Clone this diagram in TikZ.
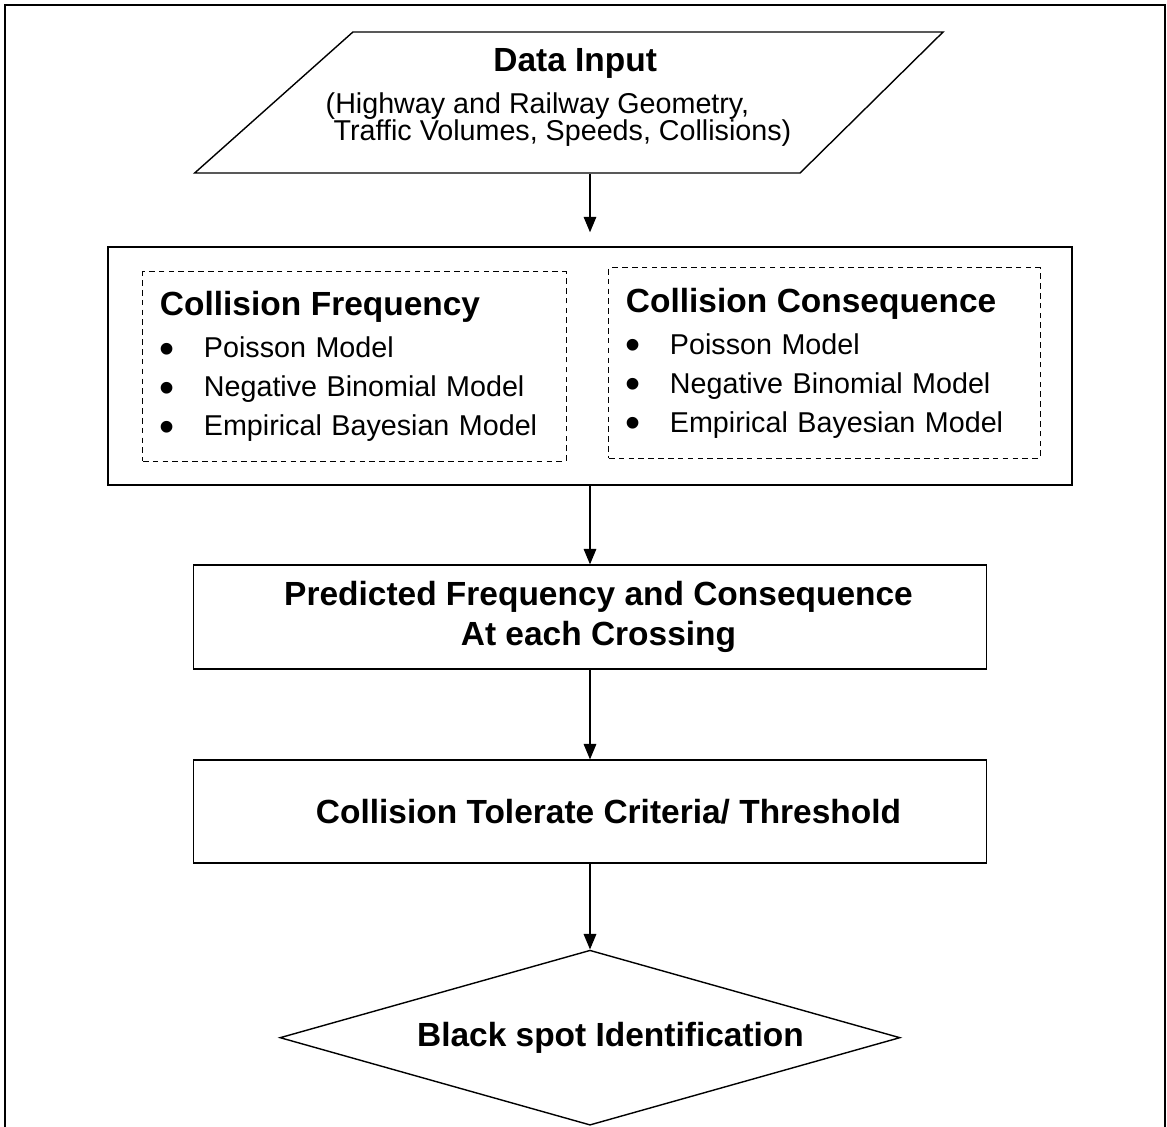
\documentclass[tikz,border=0pt]{standalone}
\usepackage{fontspec}
\setmainfont{Liberation Sans}
\usetikzlibrary{shapes.geometric,positioning,arrows.meta}

\newcommand{\headfont}{\fontsize{23.8pt}{28.5pt}\bfseries\selectfont}
\newcommand{\bodyfont}{\fontsize{20.4pt}{27.7pt}\selectfont}
\newcommand{\modelitem}[1]{\makebox[1.1cm][l]{\raisebox{-0.19em}{\scalebox{1.5}{\textbullet}}}#1}

\begin{document}
\begin{tikzpicture}[x=0.025cm,y=-0.025cm,on grid,
    box/.style={draw,line width=1pt,align=center,font=\headfont},
    modelbox/.style={draw,dash pattern=on 4pt off 3pt,line width=0.7pt,align=left,
      inner xsep=0.425cm,inner ysep=0pt,font=\bodyfont},
    flow/.style={-{Triangle[width=9pt,length=11pt]},line width=0.8pt}]
  \useasboundingbox (0,0) rectangle (1167,1127);
  % page frame, open at the bottom
  \draw[line width=1.5pt] (5,1140) -- (5,5) -- (1165,5) -- (1165,1140);

  \node[draw,line width=1pt,trapezium,trapezium left angle=41.7,trapezium right angle=135.4,
    inner xsep=5.5875cm,inner ysep=1.7625cm] (datain) at (576.5,102.5) {};
  \node[align=left,inner sep=0pt,font={\fontsize{20.4pt}{19.2pt}\selectfont\lineskiplimit=-20pt}]
    (datatext) at (558.5,97.5) {\hspace*{4.19cm}{\headfont Data Input}\\[10.7pt]
    (Highway and Railway Geometry,\\
    \hspace*{0.2cm}Traffic Volumes, Speeds, Collisions)};

  \node[draw,line width=1pt,minimum width=24.1cm,minimum height=5.95cm] (model) at (590,366) {};
  \node[modelbox,text width=9.725cm,minimum height=4.725cm] (freq) at (354.5,366.5)
    {{\headfont Collision Frequency}\\[2.1pt]
     \modelitem{Poisson Model}\\
     \modelitem{Negative Binomial Model}\\
     \modelitem{Empirical Bayesian Model}};
  \node[modelbox,text width=9.925cm,minimum height=4.75cm] (cons) at (824.5,363)
    {{\headfont Collision Consequence}\\[2.1pt]
     \modelitem{Poisson Model}\\
     \modelitem{Negative Binomial Model}\\
     \modelitem{Empirical Bayesian Model}};

  \node[box,minimum width=19.825cm,minimum height=2.6cm] (pred) [below=6.275cm of model]
    {\hspace*{0.425cm}Predicted Frequency and Consequence\\ \hspace*{0.425cm}At each Crossing};
  \node[box,minimum width=19.825cm,minimum height=2.575cm] (tol) [below=4.8625cm of pred]
    {\hspace*{0.925cm}Collision Tolerate Criteria/ Threshold};
  \node[box,diamond,shape aspect=3.543,minimum width=15.5cm,minimum height=4.375cm,inner sep=0pt]
    (black) [below=5.65cm of tol] {\hspace*{1.025cm}Black spot Identification};

  \draw[flow,shorten >=0.35cm] (model.north |- datain.south) -- (model.north);
  \path[flow]
    (model) edge (pred)
    (pred) edge (tol)
    (tol) edge (black);
\end{tikzpicture}
\end{document}
